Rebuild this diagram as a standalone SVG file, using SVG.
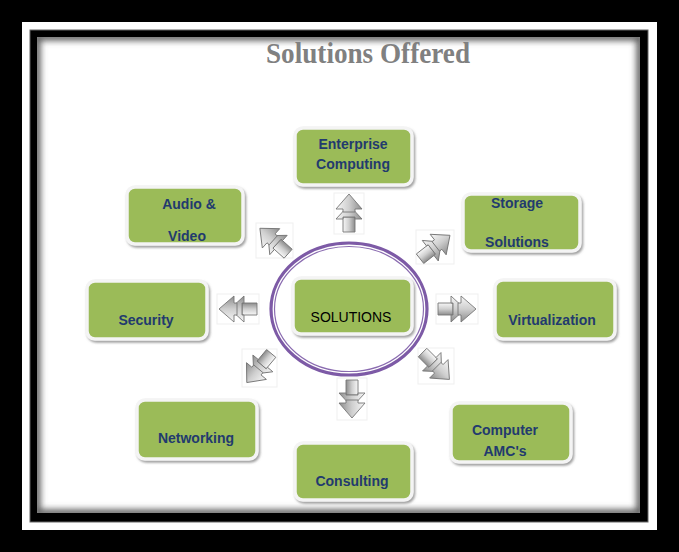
<svg xmlns="http://www.w3.org/2000/svg" width="679" height="552" viewBox="0 0 679 552">
<style>
.box{fill:#9bbb59;stroke:#f4f4f4;stroke-width:3.5;filter:url(#sh)}
.lbl{font-family:"Liberation Sans",Arial,sans-serif;font-weight:bold;font-size:14px;fill:#223a6e;text-anchor:middle}
.arr{fill:url(#ag);stroke:#777;stroke-width:0.9;stroke-linejoin:round}
.afr{fill:none;stroke:#efefef;stroke-width:1}
</style>
<defs>
<filter id="sh" x="-10%" y="-10%" width="130%" height="140%">
<feDropShadow dx="1.5" dy="2" stdDeviation="1.2" flood-color="#8a8a8a" flood-opacity="0.8"/>
</filter>
<filter id="blur" x="-5%" y="-5%" width="110%" height="110%">
<feGaussianBlur stdDeviation="3"/>
</filter>
<clipPath id="inner"><rect x="37" y="37" width="603" height="476"/></clipPath>
<linearGradient id="ag" x1="0" y1="0" x2="0" y2="1">
<stop offset="0" stop-color="#f7f7f7"/>
<stop offset="0.5" stop-color="#cfcfcf"/>
<stop offset="1" stop-color="#8c8c8c"/>
</linearGradient>
<g id="arrow">
<path class="arr" d="M-19,-6 H-4 V6 H-19 Z"/>
<path class="arr" d="M-6,-13 L8,0 L-6,13 L-6,6 L-4,6 L-4,-6 L-6,-6 Z"/>
<path class="arr" d="M4,-13 L19,0 L4,13 L4,6 L1,6 L1,-6 L4,-6 Z"/>
</g>
</defs>

<!-- frame -->
<rect x="0" y="0" width="679" height="552" fill="#000"/>
<rect x="22" y="22" width="635" height="508" fill="#fff"/>
<rect x="30" y="30" width="618" height="492" fill="#000" stroke="#666" stroke-width="1"/>
<rect x="37" y="37" width="603" height="476" fill="#fff"/>
<g clip-path="url(#inner)">
<rect x="37" y="37" width="603" height="476" fill="none" stroke="#555" stroke-width="7" filter="url(#blur)"/>
</g>

<text x="368" y="63" font-family="'Liberation Serif','Times New Roman',serif" font-weight="bold" font-size="29" fill="#808080" text-anchor="middle" textLength="204" lengthAdjust="spacingAndGlyphs">Solutions Offered</text>

<!-- central ellipse -->
<g id="ring">
<ellipse cx="349" cy="309" rx="78" ry="66" fill="none" stroke="#7d5aa6" stroke-width="3.2"/>
<ellipse cx="349" cy="309" rx="74.5" ry="62.5" fill="none" stroke="#8a6bb0" stroke-width="1.2"/>
</g>

<!-- connectors -->
<g id="connectors">
<rect class="afr" x="334" y="193" width="30" height="41"/>
<rect class="afr" x="337" y="378" width="30" height="42"/>
<rect class="afr" x="436" y="294" width="42" height="30"/>
<rect class="afr" x="217" y="294" width="42" height="30"/>
<rect class="afr" x="416" y="230" width="38" height="34"/>
<rect class="afr" x="256" y="223" width="37" height="35"/>
<rect class="afr" x="242" y="349" width="35" height="38"/>
<rect class="afr" x="418" y="348" width="36" height="36"/>
<use href="#arrow" transform="translate(349,213) rotate(-90)"/>
<use href="#arrow" transform="translate(352,399) rotate(90)"/>
<use href="#arrow" transform="translate(457,309)"/>
<use href="#arrow" transform="translate(238,309) rotate(180)"/>
<use href="#arrow" transform="translate(435,247) rotate(-38)"/>
<use href="#arrow" transform="translate(274,241) rotate(-138)"/>
<use href="#arrow" transform="translate(259,368) rotate(130)"/>
<use href="#arrow" transform="translate(436,366) rotate(45)"/>
</g>

<g id="solutions">
<rect class="box" x="293" y="278" width="119" height="56" rx="8"/>
<text x="351" y="322" font-family="'Liberation Sans',Arial,sans-serif" font-size="14" fill="#000" text-anchor="middle">SOLUTIONS</text>
</g>
<g id="enterprise">
<rect class="box" x="295" y="128" width="117" height="57" rx="8"/>
<text class="lbl" x="353" y="149">Enterprise</text>
<text class="lbl" x="353" y="169">Computing</text>
</g>
<g id="audio">
<rect class="box" x="127" y="187" width="116" height="57" rx="8"/>
<text class="lbl" x="189" y="209">Audio &amp;</text>
<text class="lbl" x="187" y="241">Video</text>
</g>
<g id="storage">
<rect class="box" x="463" y="194" width="117" height="57" rx="8"/>
<text class="lbl" x="517" y="208">Storage</text>
<text class="lbl" x="517" y="247">Solutions</text>
</g>
<g id="security">
<rect class="box" x="87" y="281" width="120" height="58" rx="8"/>
<text class="lbl" x="146" y="325">Security</text>
</g>
<g id="virtualization">
<rect class="box" x="495" y="280" width="120" height="59" rx="8"/>
<text class="lbl" x="552" y="325">Virtualization</text>
</g>
<g id="networking">
<rect class="box" x="137" y="400" width="120" height="59" rx="8"/>
<text class="lbl" x="196" y="443">Networking</text>
</g>
<g id="consulting">
<rect class="box" x="295" y="443" width="117" height="57" rx="8"/>
<text class="lbl" x="352" y="486">Consulting</text>
</g>
<g id="computer">
<rect class="box" x="451" y="403" width="120" height="59" rx="8"/>
<text class="lbl" x="505" y="435">Computer</text>
<text class="lbl" x="505" y="456">AMC's</text>
</g>
</svg>
